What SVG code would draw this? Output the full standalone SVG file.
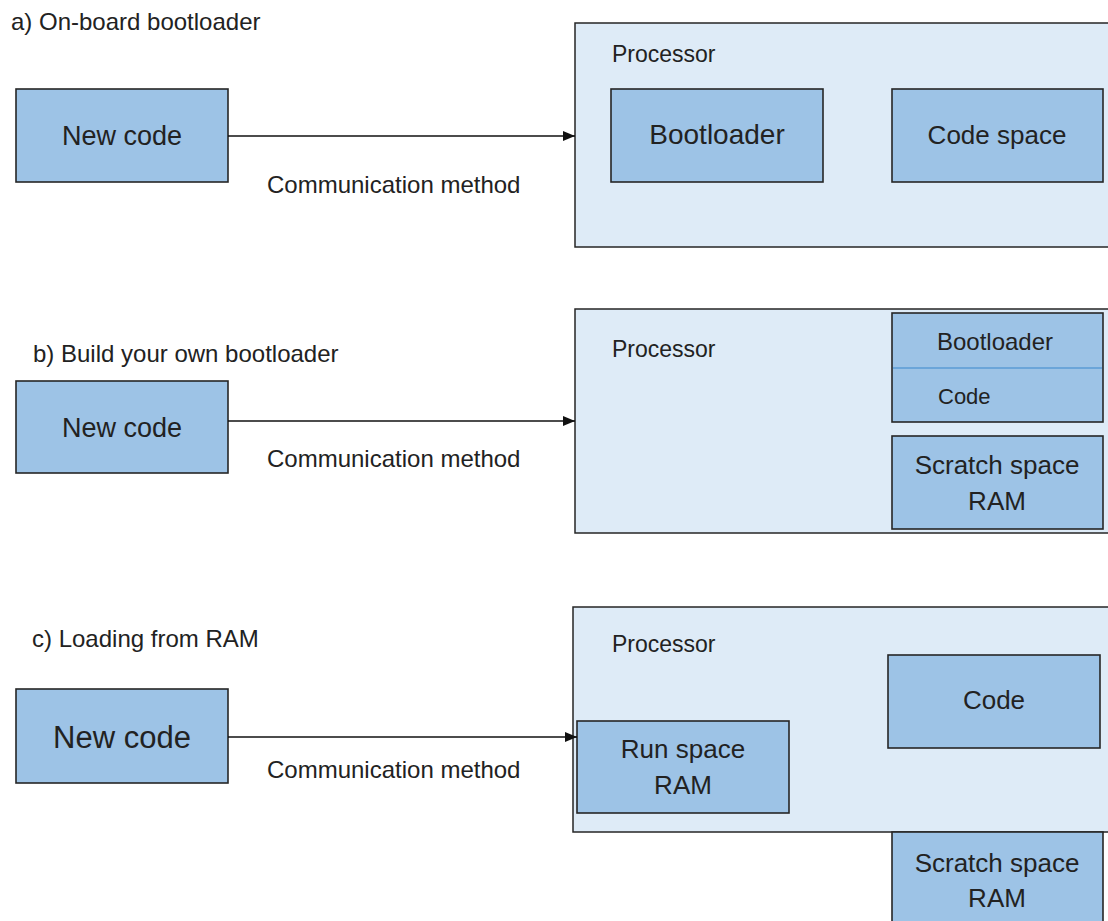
<svg xmlns="http://www.w3.org/2000/svg" width="1108" height="921" viewBox="0 0 1108 921">
  <style>
    text { font-family: "Liberation Sans", Arial, sans-serif; fill: #222; }
    .title { font-size: 24px; }
    .lbl { font-size: 24px; }
    .big { font-size: 26px; text-anchor: middle; }
    .proc { fill: #DEEBF7; stroke: #262626; stroke-width: 1.5; }
    .blk { fill: #9DC3E6; stroke: #262626; stroke-width: 1.6; }
    .conn { stroke: #111; stroke-width: 1.5; fill: none; marker-end: url(#arrow); }
  </style>
  <defs>
    <marker id="arrow" viewBox="0 0 12 10" refX="12" refY="5" markerWidth="12" markerHeight="10" markerUnits="userSpaceOnUse" orient="auto">
      <path d="M0,0 L12,5 L0,10 z" fill="#111"/>
    </marker>
  </defs>

  <rect width="1108" height="921" fill="#fff"/>

  <!-- section titles -->
  <text class="title" x="11" y="30">a) On-board bootloader</text>
  <text class="title" x="33" y="362">b) Build your own bootloader</text>
  <text class="title" x="32" y="647">c) Loading from RAM</text>

  <!-- a) on-board bootloader -->
  <g id="a-newcode">
    <rect class="blk" x="16" y="89" width="212" height="93"/>
    <text class="big" x="122" y="145" style="font-size:27px">New code</text>
  </g>
  <g id="a-processor">
    <rect class="proc" x="575" y="23" width="545" height="224"/>
    <text class="lbl" x="612" y="62" style="font-size:23px">Processor</text>
  </g>
  <g id="a-bootloader">
    <rect class="blk" x="611" y="89" width="212" height="93"/>
    <text class="big" x="717" y="144" style="font-size:28px">Bootloader</text>
  </g>
  <g id="a-codespace">
    <rect class="blk" x="892" y="89" width="211" height="93"/>
    <text class="big" x="997" y="144">Code space</text>
  </g>

  <!-- b) build your own bootloader -->
  <g id="b-newcode">
    <rect class="blk" x="16" y="381" width="212" height="92"/>
    <text class="big" x="122" y="437" style="font-size:27px">New code</text>
  </g>
  <g id="b-processor">
    <rect class="proc" x="575" y="309" width="545" height="224"/>
    <text class="lbl" x="612" y="357" style="font-size:23px">Processor</text>
  </g>
  <g id="b-flash">
    <rect class="blk" x="892" y="313" width="211" height="109"/>
    <line x1="893" y1="368" x2="1102" y2="368" stroke="#5B9BD5" stroke-width="1.5"/>
    <text class="lbl" x="995" y="350" text-anchor="middle">Bootloader</text>
    <text class="lbl" x="938" y="404" style="font-size:22px">Code</text>
  </g>
  <g id="b-scratch">
    <rect class="blk" x="892" y="436" width="211" height="93"/>
    <text class="big" x="997" y="474">Scratch space</text>
    <text class="big" x="997" y="510">RAM</text>
  </g>

  <!-- c) loading from RAM -->
  <g id="c-newcode">
    <rect class="blk" x="16" y="689" width="212" height="94"/>
    <text class="big" x="122" y="748" style="font-size:31px">New code</text>
  </g>
  <g id="c-processor">
    <rect class="proc" x="573" y="607" width="547" height="225"/>
    <text class="lbl" x="612" y="652" style="font-size:23px">Processor</text>
  </g>
  <g id="c-code">
    <rect class="blk" x="888" y="655" width="212" height="93"/>
    <text class="big" x="994" y="709">Code</text>
  </g>
  <g id="c-runspace">
    <rect class="blk" x="577" y="721" width="212" height="92"/>
    <text class="big" x="683" y="758">Run space</text>
    <text class="big" x="683" y="794">RAM</text>
  </g>
  <g id="c-scratch">
    <rect class="blk" x="892" y="832" width="211" height="100"/>
    <text class="big" x="997" y="872">Scratch space</text>
    <text class="big" x="997" y="907">RAM</text>
  </g>

  <!-- connectors -->
  <g id="connectors">
    <line class="conn" x1="228" y1="136" x2="575" y2="136"/>
    <line class="conn" x1="228" y1="421" x2="575" y2="421"/>
    <line class="conn" x1="228" y1="737" x2="577" y2="737"/>
    <text class="lbl" x="267" y="193">Communication method</text>
    <text class="lbl" x="267" y="467">Communication method</text>
    <text class="lbl" x="267" y="778">Communication method</text>
  </g>
</svg>
